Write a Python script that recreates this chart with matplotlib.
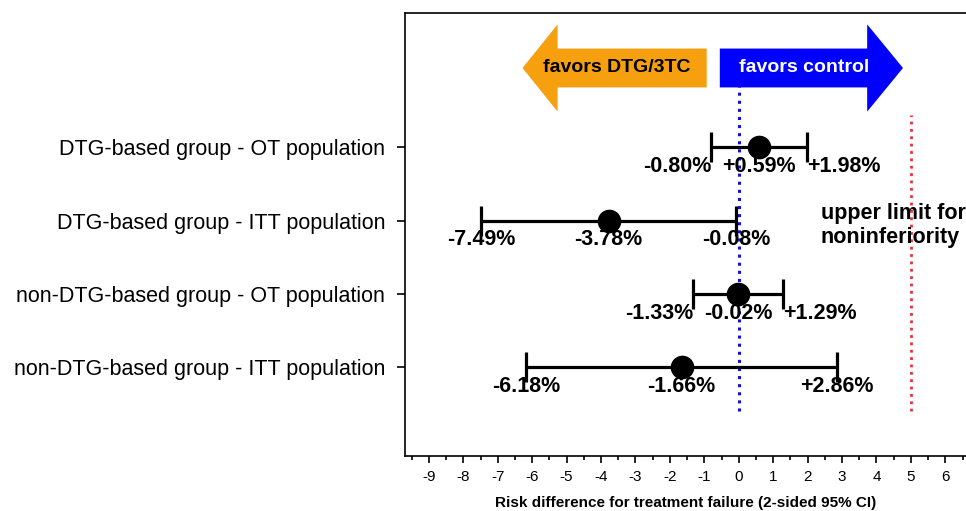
import matplotlib.pyplot as plt
from matplotlib.patches import FancyArrow
from matplotlib.ticker import MultipleLocator

plt.rcParams["font.family"] = ["Liberation Sans", "DejaVu Sans"]
plt.rcParams["axes.unicode_minus"] = False

# data
groups = [
    "DTG-based group - OT population",
    "DTG-based group - ITT population",
    "non-DTG-based group - OT population",
    "non-DTG-based group - ITT population",
]
point_est = [0.59, -3.78, -0.02, -1.66]
ci_low = [-0.80, -7.49, -1.33, -6.18]
ci_high = [1.98, -0.08, 1.29, 2.86]
margin = 5

# label alignment per row: (lower, point, upper)
align = [
    ("right", "center", "left"),
    ("center", "center", "center"),
    ("right", "center", "left"),
    ("center", "center", "center"),
]

fig = plt.figure(figsize=(9.66, 5.11), dpi=100)
ax = fig.add_axes([0.419, 0.1076, 0.581, 0.867])

ypos = list(range(len(groups), 0, -1))

ax.plot([0, 0], [0.41, 5.32], ls=":", color="#1010e0", lw=2.2, zorder=1)
ax.plot([margin, margin], [0.41, 4.44], ls=":", color="#e8303a", lw=2.0, zorder=1)

xerr = [[p - lo for p, lo in zip(point_est, ci_low)],
        [hi - p for p, hi in zip(point_est, ci_high)]]
ax.errorbar(point_est, ypos, xerr=xerr, fmt="o", color="black", ms=16,
            elinewidth=2.3, capsize=11, capthick=2.3, zorder=3)

def fmt(v):
    return f"{v:+.2f}%" if v > 0 else f"{v:.2f}%"

for y, lo, p, hi, al in zip(ypos, ci_low, point_est, ci_high, align):
    for val, ha in zip((lo, p, hi), al):
        ax.text(val, y - 0.12, fmt(val), ha=ha, va="top", fontsize=15.5,
                fontweight="bold", zorder=4)

# direction arrows
ay = 5.08
ax.add_patch(FancyArrow(-0.93, ay, -5.35, 0, width=0.53, head_width=1.19,
                        head_length=1.02, length_includes_head=True,
                        color="#f6a00f", lw=0))
ax.add_patch(FancyArrow(-0.55, ay, 5.32, 0, width=0.53, head_width=1.19,
                        head_length=1.04, length_includes_head=True,
                        color="#0000ff", lw=0))
ax.text(-3.55, ay, "favors DTG/3TC", ha="center", va="center", fontsize=14,
        fontweight="bold", color="black")
ax.text(1.89, ay, "favors control", ha="center", va="center", fontsize=14,
        fontweight="bold", color="white")

ax.text(2.38, 2.93, "upper limit for\nnoninferiority", ha="left", va="center",
        fontsize=15.5, fontweight="bold", linespacing=1.22)

ax.set_xlim(-9.7, 6.6)
ax.set_ylim(-0.21, 5.83)
ax.set_yticks(ypos)
ax.set_yticklabels(groups, fontsize=15.5)
ax.xaxis.set_major_locator(MultipleLocator(1))
ax.xaxis.set_minor_locator(MultipleLocator(0.5))
ax.tick_params(axis="x", which="major", length=5, width=1.2, labelsize=11, pad=5)
ax.tick_params(axis="x", which="minor", length=3, width=1.2)
ax.tick_params(axis="y", length=6, width=1.2, pad=8)
ax.set_xlabel("Risk difference for treatment failure (2-sided 95% CI)",
              fontsize=11, fontweight="bold", labelpad=9)
for s in ax.spines.values():
    s.set_linewidth(1.2)
ax.spines["right"].set_visible(False)

fig.savefig("out.png", dpi=100)
